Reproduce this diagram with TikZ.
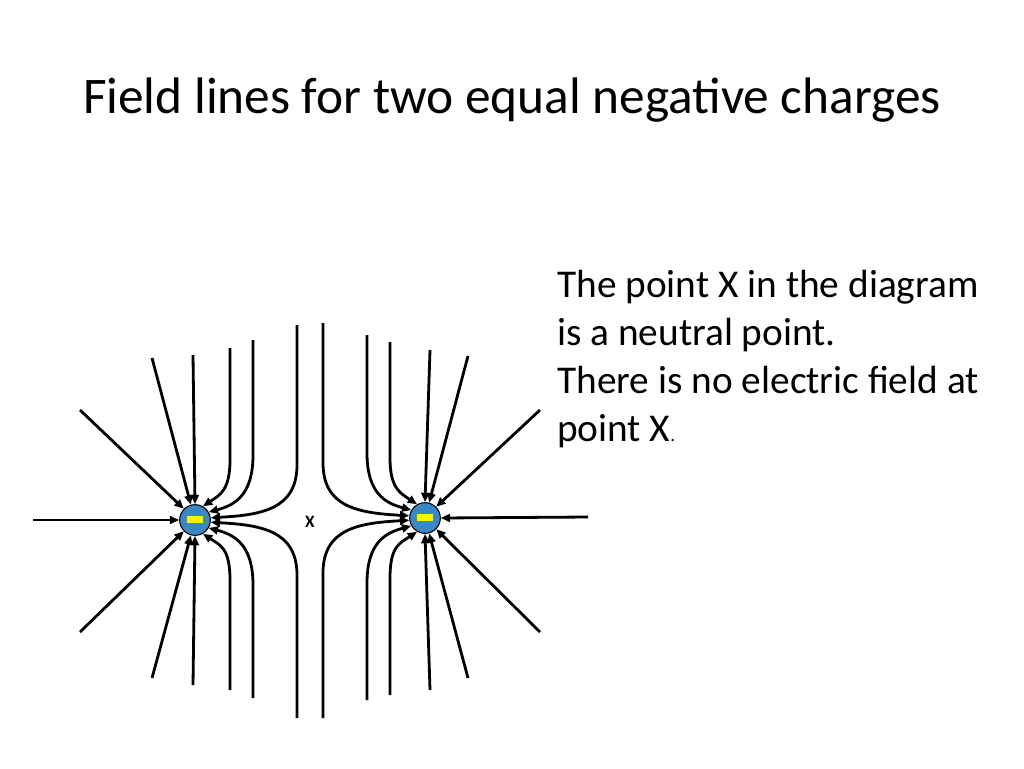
\documentclass[tikz,border=0pt]{standalone}
\usepackage{fontspec}
\setmainfont{Carlito}
\usetikzlibrary{arrows.meta}
\tikzset{fl/.style={line width=2.1pt, -{Triangle[length=7pt,width=6pt]}}}
\tikzset{charge/.style={draw, circle, fill=blue!35!gray!70!cyan, line width=0.8pt, minimum size=23pt, inner sep=0pt}}
\begin{document}
\begin{tikzpicture}[x=0.75pt,y=-0.75pt]
    \useasboundingbox (0,0) rectangle (1024,768);
    \node at (512,100) {\fontsize{38.5}{44}\selectfont Field lines for two equal negative charges};
    \node[anchor=north west, align=left, inner sep=0pt, font=\fontsize{29.5}{36}\selectfont] (txt) at (557,270)
        {The point X in the diagram\\is a neutral point.\\There is no electric field at\\point X{\fontsize{14}{14}\selectfont.}};

    \node[charge] (lq) at (195,520) {};
    \node[charge] (rq) at (425,518) {};
    \fill[yellow] (187,516) rectangle (203,523);
    \fill[yellow] (417,514) rectangle (433,521);
    \node (x) at (310,522) {\fontsize{13}{13}\selectfont\bfseries X};

    % left charge
    \draw[fl] (33,520) -- (lq.west);
    \draw[fl] (80,410) -- (lq.135);
    \draw[fl] (80,632) -- (lq.-135);
    \draw[fl] (152,358) -- (lq.105);
    \draw[fl] (152,678) -- (lq.-105);
    \draw[fl] (193,355) -- (lq.north);
    \draw[fl] (193,685) -- (lq.south);
    \draw[fl] (230,348) -- (230,460) .. controls (230,490) and (220,495) .. (lq.60);
    \draw[fl] (230,690) -- (230,580) .. controls (230,548) and (220,545) .. (lq.-60);
    \draw[fl] (253,340) -- (253,455) .. controls (253,495) and (235,505) .. (lq.30);
    \draw[fl] (253,698) -- (253,585) .. controls (253,545) and (235,535) .. (lq.-30);
    \draw[fl] (297,325) -- (297,465) .. controls (297,510) and (260,515) .. (lq.8);
    \draw[fl] (297,718) -- (297,575) .. controls (297,530) and (260,525) .. (lq.-8);

    % right charge
    \draw[fl] (588,517) -- (rq.east);
    \draw[fl] (540,410) -- (rq.45);
    \draw[fl] (540,632) -- (rq.-45);
    \draw[fl] (468,356) -- (rq.75);
    \draw[fl] (468,678) -- (rq.-75);
    \draw[fl] (430,350) -- (rq.north);
    \draw[fl] (430,690) -- (rq.south);
    \draw[fl] (390,342) -- (390,458) .. controls (390,488) and (400,493) .. (rq.120);
    \draw[fl] (390,695) -- (390,578) .. controls (390,546) and (400,543) .. (rq.-120);
    \draw[fl] (367,335) -- (367,453) .. controls (367,493) and (385,503) .. (rq.150);
    \draw[fl] (367,700) -- (367,583) .. controls (367,543) and (385,533) .. (rq.-150);
    \draw[fl] (323,323) -- (323,463) .. controls (323,508) and (360,513) .. (rq.172);
    \draw[fl] (323,718) -- (323,573) .. controls (323,528) and (360,523) .. (rq.-172);
\end{tikzpicture}
\end{document}
